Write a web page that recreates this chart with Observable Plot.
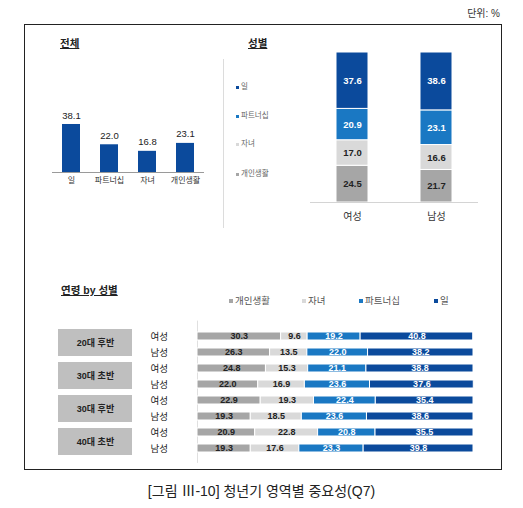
<!DOCTYPE html>
<html><head><meta charset="utf-8">
<script src="https://cdn.jsdelivr.net/npm/d3@7"></script>
<script src="https://cdn.jsdelivr.net/npm/@observablehq/plot@0.6"></script>
<style>
html,body{margin:0;padding:0;background:#fff;}
#wrap{position:relative;width:523px;height:508px;overflow:hidden;font-family:"Liberation Sans","Noto Sans CJK KR",sans-serif;color:#222;}
#wrap svg{position:absolute;left:0;top:0;}
.abs{position:absolute;white-space:nowrap;}
.title{font-weight:bold;font-size:10.5px;text-decoration:underline;line-height:12px;}
.sw{display:inline-block;vertical-align:middle;}
</style></head>
<body><div id="wrap"></div>
<script>
// ---------------- data ----------------
const categories = ["일", "파트너십", "자녀", "개인생활"];
const overallValues = [38.1, 22.0, 16.8, 23.1];

const genders = ["여성", "남성"];
const genderWork = [37.6, 38.6];
const genderPartner = [20.9, 23.1];
const genderChildren = [17.0, 16.6];
const genderPersonal = [24.5, 21.7];

const ageGroups = ["20대 후반", "30대 초반", "30대 후반", "40대 초반"];
// rows: each age group × (여성, 남성)
const agePersonal = [30.3, 26.3, 24.8, 22.0, 22.9, 19.3, 20.9, 19.3];
const ageChildren = [9.6, 13.5, 15.3, 16.9, 19.3, 18.5, 22.8, 17.6];
const agePartner  = [19.2, 22.0, 21.1, 23.6, 22.4, 23.6, 20.8, 23.3];
const ageWork     = [40.8, 38.2, 38.8, 37.6, 35.4, 38.6, 35.5, 39.8];

const stackOrder = ["개인생활", "자녀", "파트너십", "일"];
const colors = {"일": "#0b4a9c", "파트너십": "#1a78c3", "자녀": "#d9d9d9", "개인생활": "#a6a6a6"};
const textColors = {"일": "#fff", "파트너십": "#fff", "자녀": "#222", "개인생활": "#222"};

// ---------------- tables ----------------
const overallRows = categories.map((c, i) => ({cat: c, value: overallValues[i]}));
const genderSeries = {"일": genderWork, "파트너십": genderPartner, "자녀": genderChildren, "개인생활": genderPersonal};
const genderRows = [];
genders.forEach((g, gi) => stackOrder.forEach(c => genderRows.push({gender: g, cat: c, value: genderSeries[c][gi]})));

const ageSeries = {"개인생활": agePersonal, "자녀": ageChildren, "파트너십": agePartner, "일": ageWork};
const rowKeys = [];
ageGroups.forEach(a => genders.forEach(g => rowKeys.push(a + "|" + g)));
const ageRows = [];
rowKeys.forEach((k, ri) => stackOrder.forEach(c => ageRows.push({key: k, gender: k.split("|")[1], cat: c, value: ageSeries[c][ri]})));
const rowLabels = rowKeys.map(k => ({key: k, gender: k.split("|")[1]}));
const boxRows = ageGroups.map(a => ({age: a, span: 1}));

const W = 523, H = 508;
const wrap = document.getElementById("wrap");
const FONT = '"Liberation Sans","Noto Sans CJK KR",sans-serif';
const base = {width: W, height: H, style: {background: "transparent", fontFamily: FONT, overflow: "visible"}};

// ---------------- frame & texts ----------------
function addDiv(html, css, cls) {
  const d = document.createElement("div");
  d.className = "abs " + (cls || "");
  d.innerHTML = html;
  Object.assign(d.style, css);
  wrap.appendChild(d);
  return d;
}
addDiv("", {left: "24px", top: "24px", width: "476px", height: "444px", border: "1.5px solid #222"});
addDiv("", {left: "223px", top: "59px", width: "1px", height: "169px", background: "#dcdcdc"});
addDiv("단위: %", {right: "23px", top: "8px", fontSize: "10px", lineHeight: "12px", color: "#333"});
addDiv("전체", {left: "60px", top: "37px"}, "title");
addDiv("성별", {left: "248px", top: "37px"}, "title");
addDiv("연령 by 성별", {left: "61px", top: "284px"}, "title");
addDiv("[그림 Ⅲ-10] 청년기 영역별 중요성(Q7)", {left: "0px", width: "523px", textAlign: "center", top: "483px", fontSize: "14px", lineHeight: "16px", color: "#222"});

// gender legend (vertical)
const gLegendY = {"일": 87, "파트너십": 116, "자녀": 144, "개인생활": 174};
Object.entries(gLegendY).forEach(([c, y]) => {
  addDiv(`<span class="sw" style="width:3px;height:3px;background:${colors[c]};margin-right:2px"></span>${c}`,
    {left: "236px", top: (y - 5) + "px", fontSize: "7.5px", lineHeight: "10px", color: "#666"});
});
// age legend (horizontal)
const aLegendX = {"개인생활": 229, "자녀": 302, "파트너십": 359, "일": 434};
Object.entries(aLegendX).forEach(([c, x]) => {
  addDiv(`<span class="sw" style="width:4px;height:4px;background:${colors[c]};margin-right:2px"></span>${c}`,
    {left: x + "px", top: "295px", fontSize: "9.5px", lineHeight: "12px", color: "#555"});
});

// ---------------- overall chart ----------------
wrap.appendChild(Plot.plot({
  ...base,
  marginLeft: 52, marginRight: W - 204, marginTop: 121.6, marginBottom: H - 172,
  x: {domain: categories, paddingInner: 0.526, paddingOuter: 0.263, axis: null},
  y: {domain: [0, 40], axis: null},
  marks: [
    Plot.barY(overallRows, {x: "cat", y: "value", fill: colors["일"]}),
    Plot.text(overallRows, {x: "cat", y: "value", text: d => d.value.toFixed(1), dy: -9, fontSize: 9.5, fill: "#222"}),
    Plot.ruleY([0], {stroke: "#9a9a9a"}),
    Plot.axisX({tickSize: 0, tickPadding: 5, fontSize: 8, fill: "#333", label: null})
  ]
}));

// ---------------- gender chart ----------------
wrap.appendChild(Plot.plot({
  ...base,
  marginLeft: 310, marginRight: W - 478, marginTop: 52, marginBottom: H - 202,
  x: {domain: genders, paddingInner: 0.615, paddingOuter: 0.30, axis: null},
  y: {domain: [0, 100], axis: null},
  color: {type: "identity"},
  marks: [
    Plot.barY(genderRows, Plot.stackY({order: stackOrder, x: "gender", y: "value", z: "cat", fill: d => colors[d.cat], stroke: "#fff", strokeWidth: 1})),
    Plot.text(genderRows, Plot.stackY({order: stackOrder, x: "gender", y: "value", z: "cat", text: d => d.value.toFixed(1), fill: d => textColors[d.cat], fontSize: 9.5, fontWeight: "bold"})),
    Plot.ruleY([0], {stroke: "#d4d4d4"}),
    Plot.axisX({tickSize: 0, tickPadding: 10, fontSize: 10, fill: "#333", label: null})
  ]
}));

// ---------------- age group boxes ----------------
wrap.appendChild(Plot.plot({
  ...base,
  marginLeft: 58, marginRight: W - 132, marginTop: 321.9, marginBottom: H - 461.9,
  x: {domain: [0, 1], axis: null},
  y: {domain: ageGroups, padding: 0.1667, axis: null},
  marks: [
    Plot.barX(boxRows, {y: "age", x: "span", fill: "#bfbfbf"}),
    Plot.text(boxRows, {y: "age", text: "age", frameAnchor: "middle", fontSize: 9, fontWeight: "bold", fill: "#222"})
  ]
}));

// ---------------- age × gender bars ----------------
wrap.appendChild(Plot.plot({
  ...base,
  marginLeft: 197, marginRight: W - 473, marginTop: 320.6, marginBottom: H - 462.9,
  x: {domain: [0, 100], axis: null},
  y: {domain: rowKeys, padding: 0.47, axis: null},
  color: {type: "identity"},
  marks: [
    Plot.ruleX([0], {stroke: "#e0e0e0"}),
    Plot.barX(ageRows, Plot.stackX({order: stackOrder, y: "key", x: "value", z: "cat", fill: d => colors[d.cat], stroke: "#fff", strokeWidth: 1})),
    Plot.text(ageRows, Plot.stackX({order: stackOrder, y: "key", x: "value", z: "cat", text: d => d.value.toFixed(1), fill: d => textColors[d.cat], fontSize: 9, fontWeight: "bold"})),
    Plot.text(rowLabels, {y: "key", text: "gender", frameAnchor: "left", dx: -47, textAnchor: "start", fontSize: 9.5, fill: "#222"})
  ]
}));
</script></body></html>
